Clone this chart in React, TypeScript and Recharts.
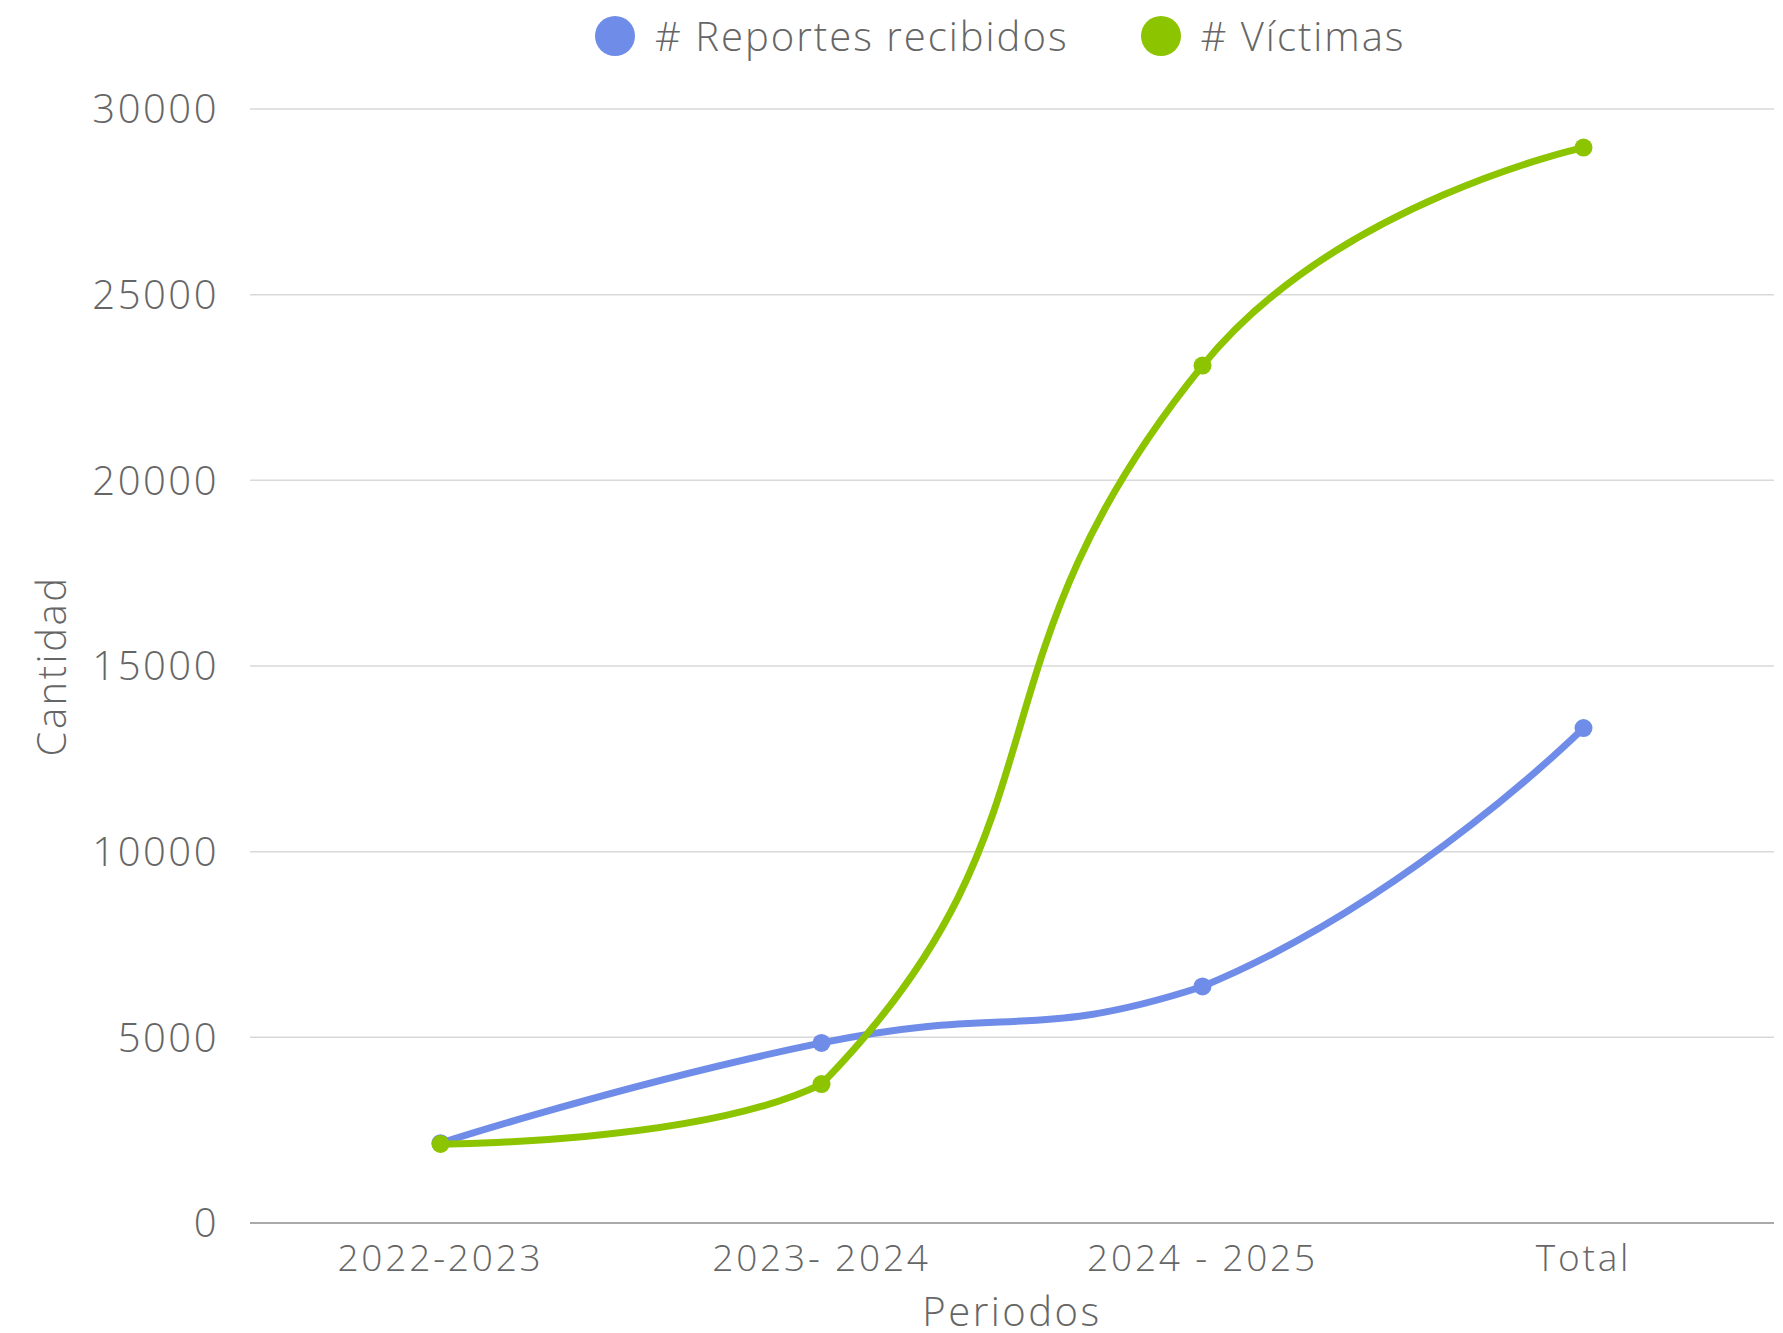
import { LineChart, Line, XAxis, YAxis, CartesianGrid, Label } from "recharts";

const periods = ["2022-2023", "2023- 2024", "2024 - 2025", "Total"];
const reportes = [2150, 4850, 6370, 13330];
const victimas = [2130, 3740, 23090, 28960];
const yTicks = [0, 5000, 10000, 15000, 20000, 25000, 30000];

const seriesNames = ["# Reportes recibidos", "# Víctimas"];
const seriesColors = ["#6f8de8", "#8dc400"];

const data = periods.map((p, i) => ({
  period: p,
  reportes: reportes[i],
  victimas: victimas[i],
}));

const FONT = "'Open Sans', sans-serif";
const GREY = "#666666";

const clamp = (v: number, a: number, b: number) => Math.max(Math.min(a, b), Math.min(Math.max(a, b), v));

// smoothing like the original chart: control points along (next - prev),
// split by segment length and kept between the neighbouring points
function smoothCurve(smooth: number) {
  return (ctx: any) => {
    let pts: number[][] = [];
    const draw = () => {
      if (!pts.length) return;
      let cp0 = [pts[0][0], pts[0][1]];
      ctx.moveTo(pts[0][0], pts[0][1]);
      for (let i = 1; i < pts.length; i++) {
        const [px, py] = pts[i - 1];
        const [x, y] = pts[i];
        let cp1 = [x, y];
        let next = [x, y];
        if (i < pts.length - 1) {
          const [nx, ny] = pts[i + 1];
          const vx = nx - px;
          const vy = ny - py;
          const lp = Math.hypot(x - px, y - py);
          const ln = Math.hypot(nx - x, ny - y);
          const r = ln / (ln + lp);
          cp1 = [clamp(x - vx * smooth * (1 - r), px, x), clamp(y - vy * smooth * (1 - r), py, y)];
          next = [clamp(x + vx * smooth * r, x, nx), clamp(y + vy * smooth * r, y, ny)];
        }
        ctx.bezierCurveTo(cp0[0], cp0[1], cp1[0], cp1[1], x, y);
        cp0 = next;
      }
    };
    return {
      areaStart() {},
      areaEnd() {},
      lineStart() {
        pts = [];
      },
      lineEnd() {
        draw();
      },
      point(x: number, y: number) {
        pts.push([+x, +y]);
      },
    };
  };
}

const curve = smoothCurve(0.5);
const textStyle = { fill: GREY, fontFamily: FONT, fontWeight: 300, letterSpacing: 2.5 };

export default function App() {
  return (
    <div style={{ position: "absolute", left: 0, top: 0, width: 1783, height: 1333, background: "#fff", fontFamily: FONT }}>
      {/* legend */}
      <div
        style={{
          position: "absolute",
          top: 8,
          left: 595,
          display: "flex",
          alignItems: "center",
          gap: 72,
          fontSize: 40,
          fontWeight: 300,
          color: GREY,
          letterSpacing: 2,
        }}
      >
        {seriesNames.map((name, i) => (
          <div key={name} style={{ display: "flex", alignItems: "center", gap: 20 }}>
            <div style={{ width: 40, height: 40, borderRadius: "50%", background: seriesColors[i] }} />
            <span>{name}</span>
          </div>
        ))}
      </div>

      <LineChart width={1783} height={1333} data={data} margin={{ top: 109, right: 9, left: 0, bottom: 0 }}>
        <CartesianGrid vertical={false} stroke="#d9d9d9" strokeWidth={1.5} />
        <XAxis
          dataKey="period"
          height={110}
          padding={{ left: 190.5, right: 190.5 }}
          stroke="#aaaaaa"
          strokeWidth={2}
          tickLine={false}
          tickMargin={16}
          tick={{ fontSize: 37, ...textStyle, letterSpacing: 2.8 }}
        >
          <Label value="Periodos" position="insideBottom" offset={7} style={{ fontSize: 40, ...textStyle }} />
        </XAxis>
        <YAxis
          width={250}
          domain={[0, 30000]}
          ticks={yTicks}
          axisLine={false}
          tickLine={false}
          tickMargin={25}
          tick={{ fontSize: 40, ...textStyle }}
        >
          <Label
            content={({ viewBox }: any) => (
              <text
                transform={`translate(${viewBox.x + 66}, ${viewBox.y + viewBox.height / 2}) rotate(-90)`}
                textAnchor="middle"
                fontSize={40}
                {...textStyle}
              >
                Cantidad
              </text>
            )}
          />
        </YAxis>
        <Line
          type={curve as any}
          dataKey="reportes"
          name={seriesNames[0]}
          stroke={seriesColors[0]}
          strokeWidth={7}
          dot={{ r: 9, fill: seriesColors[0], stroke: "none" }}
          isAnimationActive={false}
        />
        <Line
          type={curve as any}
          dataKey="victimas"
          name={seriesNames[1]}
          stroke={seriesColors[1]}
          strokeWidth={7}
          dot={{ r: 9, fill: seriesColors[1], stroke: "none" }}
          isAnimationActive={false}
        />
      </LineChart>
    </div>
  );
}
